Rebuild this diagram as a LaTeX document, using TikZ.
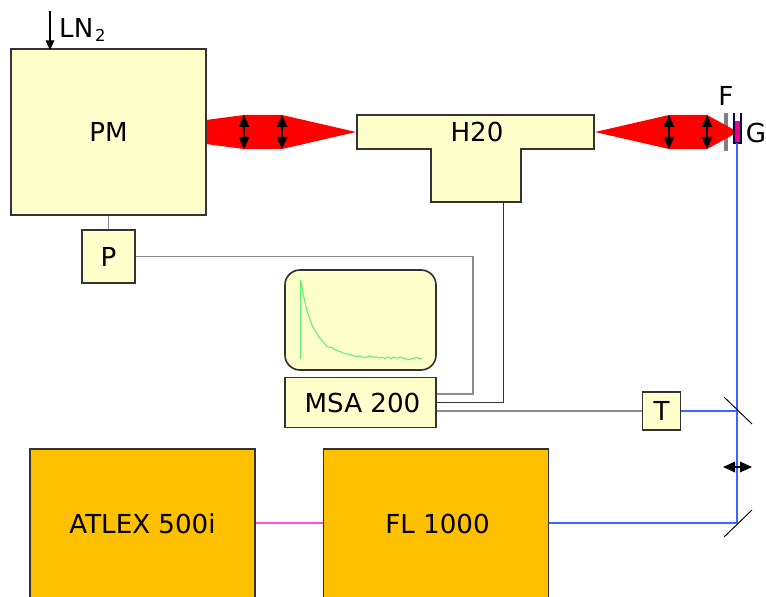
\documentclass[tikz,border=0pt]{standalone}
\usepackage{fontspec}
\setmainfont{DejaVu Sans}
\usetikzlibrary{arrows.meta,positioning,calc}
\definecolor{boxyellow}{RGB}{255,255,204}
\definecolor{boxorange}{RGB}{255,192,0}
\definecolor{beamblue}{RGB}{60,100,255}
\definecolor{pumppink}{RGB}{255,80,230}
\definecolor{tracegreen}{RGB}{90,245,110}
\tikzset{
  devbox/.style={
    rectangle,
    draw=black!80,
    line width=1.4pt,
    inner sep=0pt,
    align=center,
    font=\fontsize{22.3}{26}\selectfont,
    fill=boxyellow
  },
  laserbox/.style={
    devbox,
    fill=boxorange
  },
  textlabel/.style={
    inner sep=0pt,
    font=\fontsize{22.3}{26}\selectfont
  },
  redbeam/.style={fill=red, draw=none},
  greyline/.style={line width=1pt, black!45},
  darkline/.style={line width=0.8pt, black!80},
  blueline/.style={line width=1.8pt, beamblue},
  pinkline/.style={line width=1.5pt, pumppink},
  mirror/.style={line width=0.8pt, black},
  lens/.style={{Triangle[length=3.6mm,width=3.2mm]}-{Triangle[length=3.6mm,width=3.2mm]}, line width=1pt, black}
}
\begin{document}
\begin{tikzpicture}[x=0.03cm,y=-0.03cm]
\useasboundingbox (0,0) rectangle (766,597);
\clip (0,0) rectangle (766,597);
% beams
\fill[redbeam] (206,120) -- (244,115) -- (282,115) -- (356,132) -- (282,149) -- (244,149) -- (206,144) -- cycle;
% boxes
\node[devbox, minimum width=5.85cm, minimum height=4.98cm] (pm) at (108.5,132) {PM};
\node[devbox, minimum width=1.59cm, minimum height=1.59cm, below=0.40cm of pm] (p) {P};
\node[devbox, rounded corners=0.45cm, minimum width=4.53cm, minimum height=3cm] (screen) at (360.5,320) {};
\node[devbox, minimum width=4.53cm, minimum height=1.5cm, below=0.18cm of screen] (msa) {\hspace{0.12cm}MSA 200};
\node[devbox, minimum width=1.14cm, minimum height=1.14cm] (t) at (661.5,411) {T};
\node[laserbox, minimum width=6.75cm, minimum height=4.47cm] (atlex) at (142.5,523.5) {ATLEX 500i};
\node[laserbox, minimum width=6.75cm, minimum height=4.47cm, right=2.0cm of atlex] (fl) {\hspace{0.1cm}FL 1000};
% H20 is a T
\draw[fill=boxyellow, draw=black!80, line width=1.4pt] (357,115) -- (594,115) -- (594,149) -- (521,149) -- (521,202) -- (431,202) -- (431,149) -- (357,149) -- cycle;
\node[textlabel] (h20) at (477,132) {H20};
\coordinate (h20b) at (503,202);
% labels
\node[textlabel, anchor=west] (ln) at (59,30) {LN\hspace{0.05cm}\raisebox{-3.4pt}{\fontsize{14}{14}\selectfont 2}};
\node[textlabel] (flab) at (726,96) {F};
\node[textlabel] (glab) at (756,133) {G};
\coordinate (lntop) at (50,11);
\coordinate (lnend) at (50,50);
\draw[-{Triangle[length=2.9mm,width=2.6mm]}, line width=0.9pt] (lntop) -- (lnend);
% filter and sample
\draw[line width=3.4pt, black!50] (726,113) -- (726,151);
\fill[magenta] (734,121) rectangle (741,143);
\fill[redbeam] (595,132) -- (669,115) -- (707,115) -- (738,132) -- (707,149) -- (669,149) -- cycle;
\draw[line width=0.9pt, black!70!blue] (734,113) -- (734,143) -- (741,143) -- (741,113);
\coordinate (g) at (737,143);
% lenses
\foreach \x in {244,282,669,707}
  \draw[lens] (\x,115) -- (\x,149);
% trace
\draw[tracegreen, line width=0.9pt] (300.7,359) -- (300.7,280) -- (303,293) -- (306.7,310) -- (312.7,327) -- (320,338.3) -- (326.7,346) -- (328,347) -- (330,347.5) -- (331,347) -- (336.7,350.7) -- (340,351.5) -- (343,353) -- (347,354) -- (350,354.5) -- (352,355) -- (354,356) -- (358,356.5) -- (360,356) -- (362,357) -- (365,357.5) -- (368,356.5) -- (371,356.3) -- (374,357.3) -- (377,357) -- (379,358) -- (382,357.2) -- (385,358.3) -- (388,357.2) -- (391,358.5) -- (393,357.3) -- (395,357.8) -- (398,358.2) -- (401,357) -- (403,358) -- (406,358.8) -- (408,359.7) -- (411,358.8) -- (414,358.3) -- (417,357.3) -- (419,358.5) -- (422,358.7);
% connections
\coordinate (msaP) at (msa.east |- 0,394);
\coordinate (msaH) at (msa.east |- 0,402);
\coordinate (msaT) at (msa.east |- t.west);
\coordinate (busP) at (473,325);
\coordinate (mirA) at (737,411);
\coordinate (mirB) at (737,523);
\draw[greyline] (pm) -- (p);
\draw[greyline] (p.east) -| (busP) |- (msaP);
\draw[darkline] (msaH) -| (h20b);
\draw[greyline] (msaT) -- (t);
\draw[pinkline] (atlex.east |- mirB) -- (fl.west |- mirB);
\draw[blueline] (t) -- (mirA);
\draw[blueline] (fl.east |- mirB) -- (mirB) -- (g);
\draw[mirror] ($(mirA)+(-13,-14)$) -- ($(mirA)+(15,13)$);
\draw[mirror] ($(mirB)+(-13,14)$) -- ($(mirB)+(15,-13)$);
\draw[lens] (723,467) -- (752,467);
\end{tikzpicture}
\end{document}
